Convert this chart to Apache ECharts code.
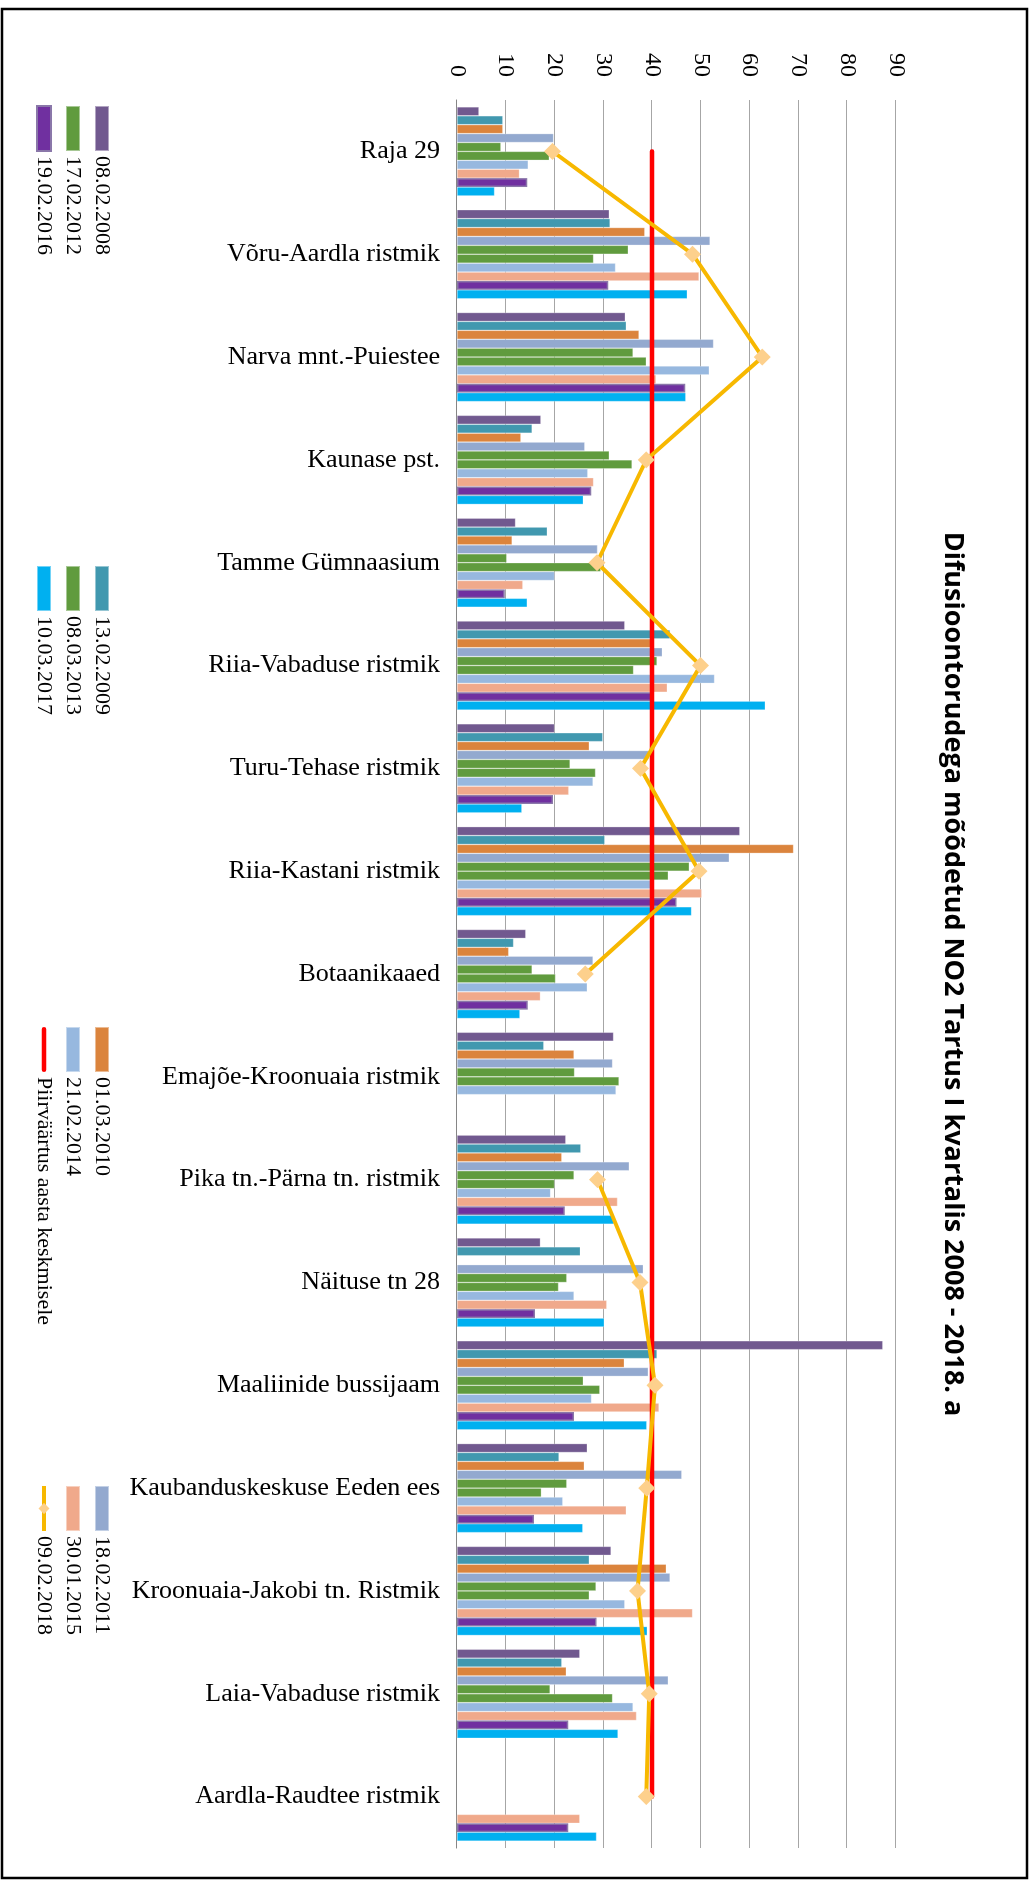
<!DOCTYPE html>
<html>
<head>
<meta charset="utf-8">
<script src="https://cdn.jsdelivr.net/npm/echarts@6/dist/echarts.min.js"></script>
<style>
html, body { margin:0; padding:0; width:1032px; height:1887px; overflow:hidden; background:#ffffff; }
#wrap { position:absolute; left:0; top:0; width:1887px; height:1032px; transform-origin:0 0; transform:translate(1032px,0) rotate(90deg); }
</style>
</head>
<body>
<div id="wrap"></div>
<script>
const categories = ['Raja 29','Võru-Aardla ristmik','Narva mnt.-Puiestee','Kaunase pst.','Tamme Gümnaasium','Riia-Vabaduse ristmik','Turu-Tehase ristmik','Riia-Kastani ristmik','Botaanikaaed','Emajõe-Kroonuaia ristmik','Pika tn.-Pärna tn. ristmik','Näituse tn 28','Maaliinide bussijaam','Kaubanduskeskuse Eeden ees','Kroonuaia-Jakobi tn. Ristmik','Laia-Vabaduse ristmik','Aardla-Raudtee ristmik'];
const s2008 = [4.5,31.2,34.5,17.2,12.0,34.4,20.0,58.0,14.1,32.1,22.3,17.1,87.3,26.7,31.6,25.2,null];
const s2009 = [9.4,31.4,34.7,15.4,18.5,43.7,29.9,30.3,11.6,17.8,25.4,25.3,41.0,20.9,27.1,21.5,null];
const s2010 = [9.4,38.5,37.3,13.1,11.3,39.8,27.1,69.0,10.6,24.0,21.5,null,34.3,26.1,42.9,22.4,null];
const s2011 = [19.8,51.9,52.6,26.2,28.8,42.1,39.3,55.8,27.9,31.9,35.3,38.2,39.2,46.1,43.7,43.3,null];
const s2012 = [9.0,35.1,36.1,31.2,10.2,41.0,23.2,47.6,15.4,24.1,24.0,22.5,25.9,22.5,28.5,19.1,null];
const s2013 = [18.9,28.0,38.8,35.9,29.5,36.2,28.4,43.3,20.2,33.2,20.0,20.8,29.3,17.3,27.1,31.9,null];
const s2014 = [14.6,32.5,51.7,26.8,20.0,52.8,27.9,40.0,26.7,32.6,19.2,24.0,27.6,21.7,34.4,36.1,null];
const s2015 = [12.8,49.6,40.8,28.0,13.5,43.1,22.9,50.2,17.1,null,32.9,30.7,41.4,34.7,48.3,36.8,25.2];
const s2016 = [14.4,31.0,46.8,27.5,9.8,40.0,19.7,45.0,14.5,null,22.1,16.0,24.0,15.8,28.6,22.8,22.8];
const s2017 = [7.7,47.2,46.9,25.9,14.4,63.2,13.3,48.1,12.9,null,32.2,30.2,38.9,25.8,39.0,33.0,28.6];
const s2018 = [19.6,48.3,62.6,38.8,28.7,49.9,37.6,49.6,26.3,null,28.8,37.5,40.6,38.9,37.0,39.4,38.8];
const limitValue = [40,40,40,40,40,40,40,40,40,40,40,40,40,40,40,40,40];
const valueTicks = [0,10,20,30,40,50,60,70,80,90];

const barNames = ['08.02.2008','13.02.2009','01.03.2010','18.02.2011','17.02.2012','08.03.2013','21.02.2014','30.01.2015','19.02.2016','10.03.2017'];
const barData = [s2008,s2009,s2010,s2011,s2012,s2013,s2014,s2015,s2016,s2017];
const barColors = ['#71598f','#4198af','#db843d','#93a9cf','#609b3e','#609b3e','#97b8df','#f0a98b','#7030a0','#00b0f0'];
const limitName = 'Piirväärtus aasta keskmisele';
const lineName = '09.02.2018';

const chart = echarts.init(document.getElementById('wrap'), null, {renderer:'canvas'});
const serif = "'Liberation Serif','Times New Roman',serif";

const series = barNames.map((n,i) => ({
  name: n, type: 'bar', data: barData[i],
  barGap: '0%', barCategoryGap: '13.4%',
  itemStyle: i === 8 ? {color: barColors[i], borderColor: '#8a77a9', borderWidth: 1.5}
                     : {color: barColors[i], borderColor: 'rgba(255,255,255,0.45)', borderWidth: 0.6},
  animation: false
}));
series.push({
  name: limitName, type: 'line', data: limitValue, symbol: 'none',
  lineStyle: {color: '#ff0000', width: 4.5, cap: 'round'},
  itemStyle: {color: '#ff0000'}, animation: false
});
series.push({
  name: lineName, type: 'line', data: s2018, symbol: 'diamond', symbolSize: 17,
  connectNulls: false,
  lineStyle: {color: '#f7b800', width: 4},
  itemStyle: {color: '#fdd08c', borderWidth: 0}, animation: false
});

const legendCols = [
  ['08.02.2008','17.02.2012','19.02.2016'],
  ['13.02.2009','08.03.2013','10.03.2017'],
  ['01.03.2010','21.02.2014',limitName],
  ['18.02.2011','30.01.2015',lineName]
];
const legendLefts = [105,565,1026,1484];
const legends = legendCols.map((col,ci) => ({
  orient: 'vertical', left: legendLefts[ci], top: 919, padding: 0,
  itemGap: 7, itemWidth: 45, itemHeight: 14,
  lineStyle: {width: 4},
  textStyle: {fontFamily: serif, fontSize: 22, color: '#000', lineHeight: 22},
  data: col.map(n => n === limitName ? {name: n, icon: 'path://M2,0 H38 A2,2 0 0 1 38,4 H2 A2,2 0 0 1 2,0 Z'}
                   : n === lineName ? {name: n} : {name: n, icon: 'rect'}),
  selectedMode: false
}));

chart.setOption({
  animation: false,
  backgroundColor: '#ffffff',
  title: {
    text: 'Difusioontorudega mõõdetud NO2 Tartus I kvartalis 2008 - 2018. a',
    left: 974, top: 63, textAlign: 'center', padding: 0,
    textStyle: {fontFamily: "'Liberation Sans Narrow','Open Sans',sans-serif", fontWeight: 'bold', fontSize: 27, color: '#000', lineHeight: 32}
  },
  legend: legends,
  grid: {left: 100, right: 39, top: 136, bottom: 457, containLabel: false},
  xAxis: {
    type: 'category', data: categories,
    axisLine: {show: true, lineStyle: {color: '#868686', width: 1.2}},
    axisTick: {show: false},
    axisLabel: {interval: 0, rotate: 90, margin: 17, fontFamily: serif, fontSize: 26, color: '#000'}
  },
  yAxis: {
    type: 'value', min: valueTicks[0], max: valueTicks[valueTicks.length-1], interval: 10,
    axisLine: {show: false}, axisTick: {show: false},
    axisLabel: {margin: 23, fontFamily: serif, fontSize: 24, color: '#000'},
    splitLine: {show: true, lineStyle: {color: '#a6a6a6', width: 1.2}}
  },
  graphic: [{
    type: 'rect', silent: true, z: 100,
    shape: {x: 9, y: 5, width: 1869, height: 1025},
    style: {fill: 'none', stroke: '#000', lineWidth: 2.5}
  }],
  series: series
});
</script>
</body>
</html>
